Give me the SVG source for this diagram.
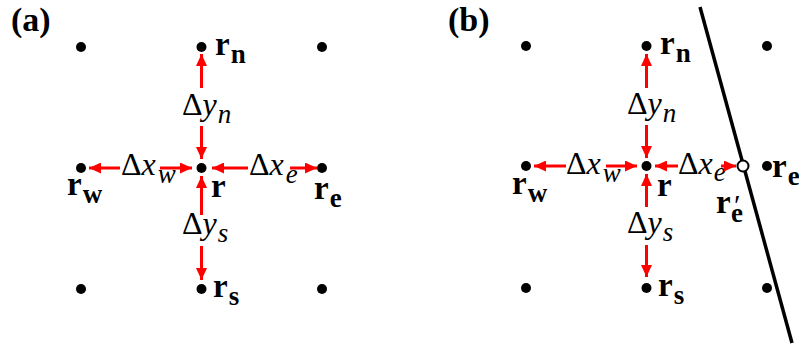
<svg xmlns="http://www.w3.org/2000/svg" width="799" height="351" viewBox="0 0 799 351">
<defs>
<marker id="ah" markerUnits="userSpaceOnUse" markerWidth="12" markerHeight="11" refX="12" refY="5.5" orient="auto">
<path d="M0,0 L12,5.5 L0,11 Z" fill="#f00"/>
</marker>
</defs>
<rect width="799" height="351" fill="#fff"/>

<g font-family="Liberation Serif, Times New Roman, serif" fill="#000">
<g id="panel-a-label"><text x="11" y="31" font-size="34" font-weight="bold">(a)</text></g>
<g id="panel-b-label"><text x="448" y="31" font-size="34" font-weight="bold">(b)</text></g>

<!-- Panel (a) nodes -->
<g id="a-nw"><circle cx="81" cy="47" r="5"/></g>
<g id="a-n"><circle cx="201.5" cy="47" r="5"/><text x="215" y="55" font-size="33" font-weight="bold">r<tspan font-size="27" dx="1" dy="8">n</tspan></text></g>
<g id="a-ne"><circle cx="322" cy="47" r="5"/></g>
<g id="a-w"><circle cx="81" cy="168" r="5"/><text x="67" y="195" font-size="33" font-weight="bold">r<tspan font-size="27" dx="1" dy="8">w</tspan></text></g>
<g id="a-c"><circle cx="201.5" cy="168" r="5"/><text x="211" y="197" font-size="33" font-weight="bold">r</text></g>
<g id="a-e"><circle cx="322" cy="168" r="5"/><text x="314" y="199" font-size="33" font-weight="bold">r<tspan font-size="27" dx="1" dy="8">e</tspan></text></g>
<g id="a-sw"><circle cx="81" cy="289" r="5"/></g>
<g id="a-s"><circle cx="201.5" cy="289" r="5"/><text x="213" y="297" font-size="33" font-weight="bold">r<tspan font-size="27" dx="1" dy="8">s</tspan></text></g>
<g id="a-se"><circle cx="322" cy="289" r="5"/></g>

<!-- Panel (a) labels -->
<g id="a-dyn"><text x="182" y="115" font-size="32">Δ<tspan font-style="italic">y</tspan><tspan font-size="27" font-style="italic" dx="1" dy="8">n</tspan></text></g>
<g id="a-dys"><text x="182" y="234" font-size="32">Δ<tspan font-style="italic">y</tspan><tspan font-size="27" font-style="italic" dx="1" dy="8">s</tspan></text></g>
<g id="a-dxw"><text x="121" y="175" font-size="32">Δ<tspan font-style="italic">x</tspan><tspan font-size="27" font-style="italic" dx="2" dy="8">w</tspan></text></g>
<g id="a-dxe"><text x="249" y="175" font-size="32">Δ<tspan font-style="italic">x</tspan><tspan font-size="27" font-style="italic" dx="2" dy="8">e</tspan></text></g>

<!-- Panel (b) nodes -->
<g id="b-nw"><circle cx="526" cy="46" r="5"/></g>
<g id="b-n"><circle cx="646.5" cy="46" r="5"/><text x="660" y="54" font-size="33" font-weight="bold">r<tspan font-size="27" dx="1" dy="8">n</tspan></text></g>
<g id="b-ne"><circle cx="767" cy="46" r="5"/></g>
<g id="b-w"><circle cx="526" cy="166" r="5"/><text x="512" y="194" font-size="33" font-weight="bold">r<tspan font-size="27" dx="1" dy="8">w</tspan></text></g>
<g id="b-c"><circle cx="646.5" cy="166" r="5"/><text x="657" y="196" font-size="33" font-weight="bold">r</text></g>
<g id="b-e"><circle cx="767" cy="166" r="5"/><text x="772" y="177" font-size="33" font-weight="bold">r<tspan font-size="27" dx="1" dy="8">e</tspan></text></g>
<g id="b-sw"><circle cx="526" cy="288" r="5"/></g>
<g id="b-s"><circle cx="646.5" cy="288" r="5"/><text x="658" y="296" font-size="33" font-weight="bold">r<tspan font-size="27" dx="1" dy="8">s</tspan></text></g>
<g id="b-se"><circle cx="767" cy="288" r="5"/></g>

<!-- Panel (b) labels -->
<g id="b-dyn"><text x="627" y="114" font-size="32">Δ<tspan font-style="italic">y</tspan><tspan font-size="27" font-style="italic" dx="1" dy="8">n</tspan></text></g>
<g id="b-dys"><text x="627" y="233" font-size="32">Δ<tspan font-style="italic">y</tspan><tspan font-size="27" font-style="italic" dx="1" dy="8">s</tspan></text></g>
<g id="b-dxw"><text x="566" y="174" font-size="32">Δ<tspan font-style="italic">x</tspan><tspan font-size="27" font-style="italic" dx="2" dy="8">w</tspan></text></g>
<g id="b-dxe"><text x="678" y="174" font-size="32">Δ<tspan font-style="italic">x</tspan><tspan font-size="27" font-style="italic" dx="1" dy="7">e</tspan></text></g>

<!-- Boundary and intersection point -->
<g id="b-boundary"><line x1="700" y1="7" x2="792" y2="343" stroke="#000" stroke-width="3.5"/></g>
<g id="b-eprime"><circle cx="743" cy="166" r="5.5" fill="#fff" stroke="#000" stroke-width="2"/><text x="716" y="213" font-size="33" font-weight="bold">r<tspan x="731" y="222" font-size="27">e</tspan><tspan x="734" y="215" font-size="30" font-weight="normal">′</tspan></text></g>
</g>

<!-- Connectors -->
<g id="connectors" stroke="#f00" stroke-width="3" fill="none" marker-end="url(#ah)">
<line x1="201.5" y1="88" x2="201.5" y2="54"/>
<line x1="201.5" y1="126" x2="201.5" y2="159"/>
<line x1="201.5" y1="215" x2="201.5" y2="176"/>
<line x1="201.5" y1="246" x2="201.5" y2="280"/>
<line x1="120" y1="168" x2="89" y2="168"/>
<line x1="160" y1="168" x2="192" y2="168"/>
<line x1="248" y1="168" x2="212" y2="168"/>
<line x1="290" y1="168" x2="317" y2="168"/>
<line x1="646.5" y1="88" x2="646.5" y2="54"/>
<line x1="646.5" y1="125" x2="646.5" y2="158"/>
<line x1="646.5" y1="207" x2="646.5" y2="174"/>
<line x1="646.5" y1="245" x2="646.5" y2="277"/>
<line x1="566" y1="166" x2="534" y2="166"/>
<line x1="606" y1="166" x2="637" y2="166"/>
<line x1="678" y1="166" x2="655" y2="166"/>
<line x1="721" y1="166" x2="736" y2="166"/>
</g>
</svg>
